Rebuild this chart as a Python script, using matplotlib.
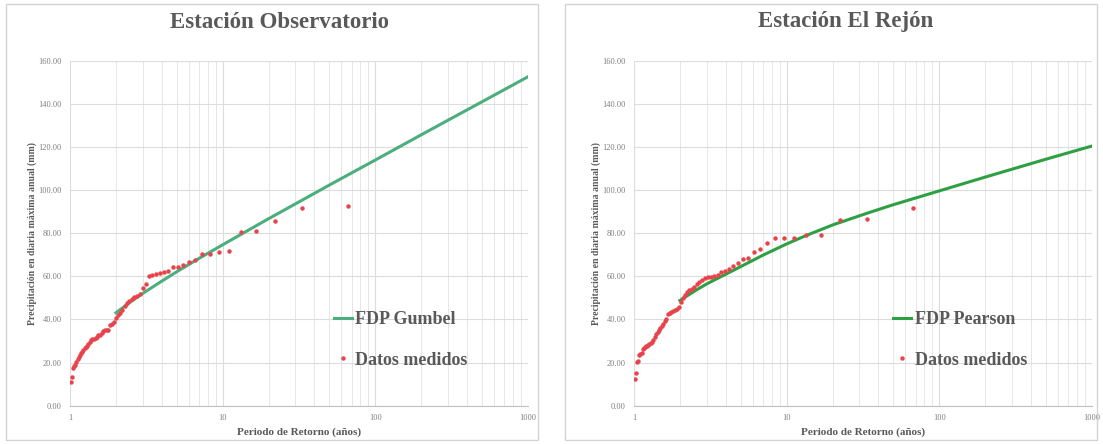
import numpy as np
import matplotlib.pyplot as plt
from matplotlib.patches import Rectangle
from matplotlib.ticker import FixedLocator, FuncFormatter, LogLocator, NullFormatter

# Estacion Observatorio - datos medidos (periodo de retorno, precipitacion)
obs_T = [66.0, 33.0, 22.0, 16.5, 13.2, 11.0, 9.43, 8.25, 7.33, 6.6, 6.0, 5.5, 5.08,
         4.71, 4.4, 4.13, 3.88, 3.67, 3.47, 3.3, 3.14, 3.0, 2.87, 2.75, 2.64, 2.54,
         2.44, 2.36, 2.28, 2.2, 2.13, 2.06, 2.0, 1.94, 1.89, 1.83, 1.78, 1.74, 1.69,
         1.65, 1.61, 1.57, 1.53, 1.5, 1.47, 1.43, 1.4, 1.38, 1.35, 1.32, 1.29, 1.27,
         1.25, 1.22, 1.2, 1.18, 1.16, 1.14, 1.12, 1.1, 1.08, 1.06, 1.05, 1.03, 1.02]
obs_P = [92.5, 91.5, 85.5, 81.0, 80.5, 71.8, 71.5, 70.5, 70.2, 67.4, 66.7, 65.2, 64.5,
         64.2, 62.5, 62.0, 61.6, 61.0, 60.6, 60.3, 56.6, 54.4, 51.8, 51.0, 50.4, 49.5,
         48.6, 47.6, 46.0, 44.2, 43.2, 42.0, 40.5, 38.6, 38.0, 37.5, 35.3, 35.2, 35.0,
         34.8, 33.5, 33.0, 32.6, 32.0, 31.6, 31.0, 30.8, 30.5, 29.5, 28.5, 27.8, 27.2,
         26.6, 26.0, 25.0, 24.3, 23.5, 22.6, 21.8, 20.3, 19.0, 18.3, 17.6, 13.2, 10.8]

# Estacion Observatorio - FDP Gumbel
gum_T = [2, 2.5, 3, 4, 5, 7, 10, 15, 20, 30, 50, 75, 100, 200, 300, 500, 1000]
gum_P = [43.1, 48.2, 52.1, 57.8, 62.1, 68.3, 74.6, 81.7, 86.7, 93.6, 102.3, 109.1,
         113.9, 125.6, 132.4, 140.9, 152.5]

# Estacion El Rejon - datos medidos
rej_T = [67.0, 33.5, 22.3, 16.75, 13.4, 11.17, 9.57, 8.38, 7.44, 6.7, 6.09, 5.58,
         5.15, 4.79, 4.47, 4.19, 3.94, 3.72, 3.53, 3.35, 3.19, 3.05, 2.91, 2.79, 2.68,
         2.58, 2.48, 2.39, 2.31, 2.23, 2.16, 2.09, 2.03, 1.97, 1.91, 1.86, 1.81, 1.76,
         1.72, 1.68, 1.63, 1.6, 1.56, 1.52, 1.49, 1.46, 1.43, 1.4, 1.37, 1.34, 1.31,
         1.29, 1.26, 1.24, 1.22, 1.2, 1.18, 1.16, 1.14, 1.12, 1.1, 1.08, 1.06, 1.05,
         1.03, 1.02]
rej_P = [91.6, 86.6, 86.3, 79.2, 79.2, 77.8, 77.8, 77.6, 75.6, 72.5, 71.4, 68.4, 68.0,
         66.0, 65.0, 63.5, 62.5, 61.8, 60.6, 60.2, 59.8, 59.5, 59.0, 58.3, 57.4, 56.4,
         55.2, 54.2, 53.6, 52.5, 51.2, 49.8, 48.0, 45.8, 45.0, 44.4, 44.0, 43.5, 43.0,
         42.4, 40.2, 39.2, 38.0, 37.0, 35.8, 35.0, 34.0, 33.3, 32.0, 30.5, 29.7, 29.0,
         28.6, 28.2, 27.8, 27.5, 27.0, 26.6, 26.3, 24.5, 23.8, 23.5, 20.6, 20.2, 15.0,
         12.2]

# Estacion El Rejon - FDP Pearson
pea_T = [2, 2.5, 3, 4, 5, 7, 10, 13.3, 20, 33.5, 50, 100, 200, 500, 1000]
pea_P = [48.8, 53.2, 56.5, 61.0, 64.5, 69.8, 75.0, 78.8, 83.8, 89.2, 93.2, 99.6,
         106.0, 114.3, 120.4]

serif = ['Liberation Serif', 'DejaVu Serif']
text_gray = '#595959'
red = '#e8434b'

fig = plt.figure(figsize=(11.03, 4.44), dpi=100)

# panel frames
for x0 in (6, 565):
    fig.add_artist(Rectangle((x0 / 1103, 4 / 444), 532 / 1103, 436 / 444,
                             transform=fig.transFigure, fill=False,
                             edgecolor='#d4d4d4', linewidth=1.0))

panels = [
    (0.0635, 279, 'Estación Observatorio', obs_T, obs_P, gum_T, gum_P, 'FDP Gumbel',
     '#4cae7c', 0.56),
    (0.5748, 846, 'Estación El Rejón', rej_T, rej_P, pea_T, pea_P, 'FDP Pearson',
     '#2ca043', 0.55),
]

for left, title_x, title, dT, dP, cT, cP, curve_label, green, leg_x in panels:
    ax = fig.add_axes([left, 0.0863, 0.415, 0.777])
    ax.set_xscale('log')
    ax.set_xlim(1, 1000)
    ax.set_ylim(0, 160)

    ax.plot(cT, cP, color=green, linewidth=2.2, label=curve_label, zorder=3)
    ax.plot(dT, dP, linestyle='none', marker='o', markersize=3.2, color=red,
            markeredgewidth=0, label='Datos medidos', zorder=4)

    ax.yaxis.set_major_locator(FixedLocator(np.arange(0, 161, 20)))
    ax.yaxis.set_major_formatter(FuncFormatter(lambda v, p: f'{v:.2f}'))
    ax.xaxis.set_major_locator(FixedLocator([1, 10, 100, 1000]))
    ax.xaxis.set_major_formatter(FuncFormatter(lambda v, p: f'{v:g}'))
    ax.xaxis.set_minor_locator(LogLocator(base=10, subs=np.arange(2, 10)))
    ax.xaxis.set_minor_formatter(NullFormatter())

    ax.grid(True, which='major', color='#dcdcdc', linewidth=0.8)
    ax.grid(True, which='minor', axis='x', color='#e6e6e6', linewidth=0.7)
    ax.set_axisbelow(True)
    for side in ('top', 'right', 'left'):
        ax.spines[side].set_visible(False)
    ax.spines['bottom'].set_color('#bfbfbf')
    ax.tick_params(which='both', length=0, labelsize=6, labelcolor='#7f7f7f', pad=6)
    for lab in ax.get_xticklabels() + ax.get_yticklabels():
        lab.set_family(serif)

    ax.set_xlabel('Periodo de Retorno (años)', family=serif, fontsize=8,
                  fontweight='bold', color=text_gray, labelpad=4)
    ax.set_ylabel('Precipitación en diaria máxima anual (mm)', family=serif,
                  fontsize=7, fontweight='bold', color=text_gray, labelpad=1)
    fig.text(title_x / 1103, 1 - 22 / 444, title, family=serif, fontsize=16.5,
             fontweight='bold', color=text_gray, ha='center', va='center')

    leg = ax.legend(loc='upper left', bbox_to_anchor=(leg_x, 0.295),
                    frameon=False, handlelength=1.0, handletextpad=0.2,
                    labelspacing=1.3, borderaxespad=0,
                    prop={'family': serif, 'size': 13, 'weight': 'bold'})
    for t in leg.get_texts():
        t.set_color(text_gray)

fig.savefig('out.png', dpi=100)
